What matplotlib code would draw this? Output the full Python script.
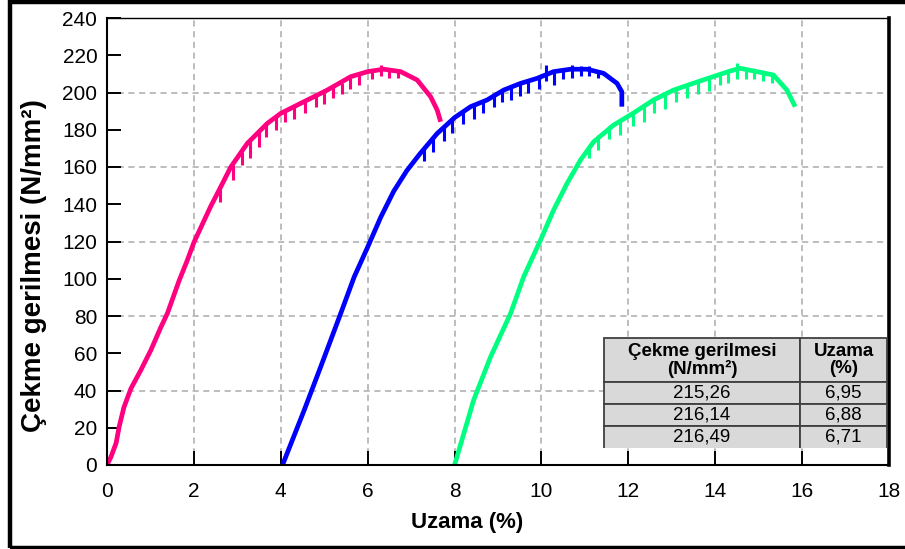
import matplotlib
matplotlib.use("Agg")
import matplotlib.pyplot as plt
from matplotlib.patches import Rectangle

plt.rcParams['font.family'] = ['Liberation Sans', 'DejaVu Sans']

# curve data (strain %, stress N/mm2)
pink_x = [0, 0.09, 0.21, 0.28, 0.39, 0.55, 0.78, 1.01, 1.24, 1.39, 1.66, 1.85, 2.0, 2.15, 2.39,
          2.6, 2.85, 3.23, 3.69, 4.0, 4.46, 5.07, 5.61, 6.0, 6.37, 6.76, 7.14, 7.45, 7.6, 7.68]
pink_y = [0, 4.3, 11.8, 20.6, 31, 41, 51, 61.7, 74, 81.4, 99, 110, 119.5, 127, 139,
          148.5, 160, 172.7, 183.4, 188.8, 194.2, 201.3, 208.5, 211.2, 212.5, 211.2, 206.7, 197.7, 190.6, 184.3]

blue_x = [4.04, 4.54, 4.92, 5.38, 5.69, 6.0, 6.3, 6.6, 6.9, 7.2, 7.6, 8.0, 8.37,
          8.75, 9.13, 9.52, 9.9, 10.28, 10.67, 11.05, 11.43, 11.74, 11.85, 11.85]
blue_y = [0, 29.5, 52.8, 81.4, 101, 117, 133, 147, 158, 167, 178, 186.5, 192.4,
          196, 201.3, 204.9, 207.6, 211.2, 212.5, 212.5, 210.3, 204.9, 200.4, 192.4]

green_x = [8.0, 8.44, 8.83, 9.29, 9.59, 9.98, 10.28, 10.59, 10.9, 11.2, 11.66, 12.12, 12.58,
           13.04, 13.49, 13.95, 14.34, 14.57, 14.96, 15.34, 15.65, 15.84]
green_y = [0, 34.9, 58.1, 81.4, 101, 120.8, 136.9, 151.2, 163.8, 173.5, 182.5, 189, 196,
           201.3, 204.9, 208.5, 211.5, 213, 211.2, 209.4, 201.3, 192.4]

# short serrations (x, top, bottom) seen on the noisy part of each curve
pink_dip_x = [2.6, 2.9, 3.1, 3.3, 3.5, 3.65, 3.9, 4.1, 4.3, 4.55, 4.8, 5.0, 5.2, 5.4, 5.6,
              5.8, 6.1, 6.3, 6.5, 6.7]
pink_dip_top = [148, 161, 168, 175, 179, 183, 187, 190, 193, 195, 198, 200, 203, 205, 208,
                210, 212, 215, 213, 212]
pink_dip_bot = [141, 153, 161, 165, 171, 176, 180, 184, 186, 189, 192, 194, 197, 199, 202,
                204, 207, 209, 208, 208]

blue_dip_x = [7.3, 7.5, 7.75, 7.95, 8.2, 8.45, 8.65, 8.9, 9.1, 9.3, 9.5, 9.7, 9.95, 10.1,
              10.3, 10.5, 10.7, 10.9, 11.1, 11.3]
blue_dip_top = [170, 176, 181, 186, 190, 193, 196, 199, 201, 203, 205, 206, 208, 215,
                211, 213, 215, 214, 214, 212]
blue_dip_bot = [163, 168, 174, 178, 183, 186, 189, 192, 195, 196, 198, 200, 202, 206,
                204, 207, 208, 209, 209, 208]

green_dip_x = [11.1, 11.3, 11.55, 11.8, 12.1, 12.35, 12.6, 12.85, 13.1, 13.35, 13.6, 13.85,
               14.1, 14.3, 14.5, 14.7, 14.9, 15.1, 15.3]
green_dip_top = [172, 177, 182, 185, 189, 192, 196, 199, 202, 204, 206, 208,
                 210, 212, 216, 213, 212, 211, 210]
green_dip_bot = [165, 169, 175, 177, 182, 184, 189, 191, 195, 197, 199, 201,
                 204, 205, 207, 207, 207, 206, 205]

table_header = ['Çekme gerilmesi\n(N/mm²)', 'Uzama\n(%)']
table_stress = ['215,26', '216,14', '216,49']
table_strain = ['6,95', '6,88', '6,71']

x_ticks = [0, 2, 4, 6, 8, 10, 12, 14, 16, 18]
y_ticks = [0, 20, 40, 60, 80, 100, 120, 140, 160, 180, 200, 220, 240]
grid_x = [2, 4, 6, 8, 10, 12, 14, 16]
grid_y = [40, 80, 120, 160, 200]

fig = plt.figure(figsize=(9.05, 5.49), dpi=100)
ax = fig.add_axes([107 / 905, 84 / 549, 782 / 905, 447 / 549])

for g in grid_x:
    ax.axvline(g, color='#ABABAB', ls=(0, (4, 3)), lw=1.1, zorder=0)
for g in grid_y:
    ax.axhline(g, color='#ABABAB', ls=(0, (4, 3)), lw=1.1, zorder=0)

curves = [(pink_x, pink_y, pink_dip_x, pink_dip_top, pink_dip_bot, '#FF0080'),
          (blue_x, blue_y, blue_dip_x, blue_dip_top, blue_dip_bot, '#0000FF'),
          (green_x, green_y, green_dip_x, green_dip_top, green_dip_bot, '#00FF80')]
for cx, cy, dx, dt, db, col in curves:
    ax.plot(cx, cy, color=col, lw=3.4, solid_capstyle='butt', solid_joinstyle='round', zorder=2)
    ax.vlines(dx, db, dt, color=col, lw=2.2, zorder=2)

ax.set_xlim(0, 18)
ax.set_ylim(0, 240)
ax.set_xticks(x_ticks)
ax.set_yticks(y_ticks)
ax.tick_params(axis='both', direction='in', length=10, width=1.4, labelsize=15)
ax.tick_params(axis='y', pad=7)
ax.tick_params(axis='x', pad=12)
ax.tick_params(top=False, right=False)

ax.spines['left'].set_linewidth(1.5)
ax.spines['bottom'].set_linewidth(1.5)
ax.spines['top'].set_linewidth(1.0)
ax.spines['right'].set_linewidth(2.6)

ax.set_xlabel('Uzama (%)', fontsize=16, fontweight='bold')
ax.set_ylabel('Çekme gerilmesi (N/mm²)', fontsize=20, fontweight='bold')
ax.xaxis.set_label_coords(0.461, -0.105)
ax.yaxis.set_label_coords(-0.077, 0.447)

# value table in the lower right corner
cells = [table_header] + [[s, e] for s, e in zip(table_stress, table_strain)]
tbl = ax.table(cellText=cells, cellLoc='center', colWidths=[0.694, 0.306],
               bbox=[0.635, 0.038, 0.3624, 0.246])
tbl.auto_set_font_size(False)
for (r, c), cell in tbl.get_celld().items():
    cell.set_facecolor('#D9D9D9')
    cell.set_edgecolor('#404040')
    cell.set_linewidth(1.3)
    cell.set_height(2.0 if r == 0 else 1.0)
    if r == 0:
        cell.get_text().set_fontweight('bold')
        cell.get_text().set_fontsize(13.5)
        cell.get_text().set_linespacing(1.0)
    else:
        cell.get_text().set_fontsize(13.5)
    if r == len(cells) - 1:
        cell.visible_edges = 'LTR'
tbl.set_zorder(5)

# outer chart frame (right edge lies outside the picture)
fig.add_artist(Rectangle((10 / 905, 1.5 / 549), 1.0, 546 / 549, transform=fig.transFigure,
                         fill=False, edgecolor='black', lw=3.2, clip_on=False))

fig.savefig('out.png', dpi=100, facecolor='white')
